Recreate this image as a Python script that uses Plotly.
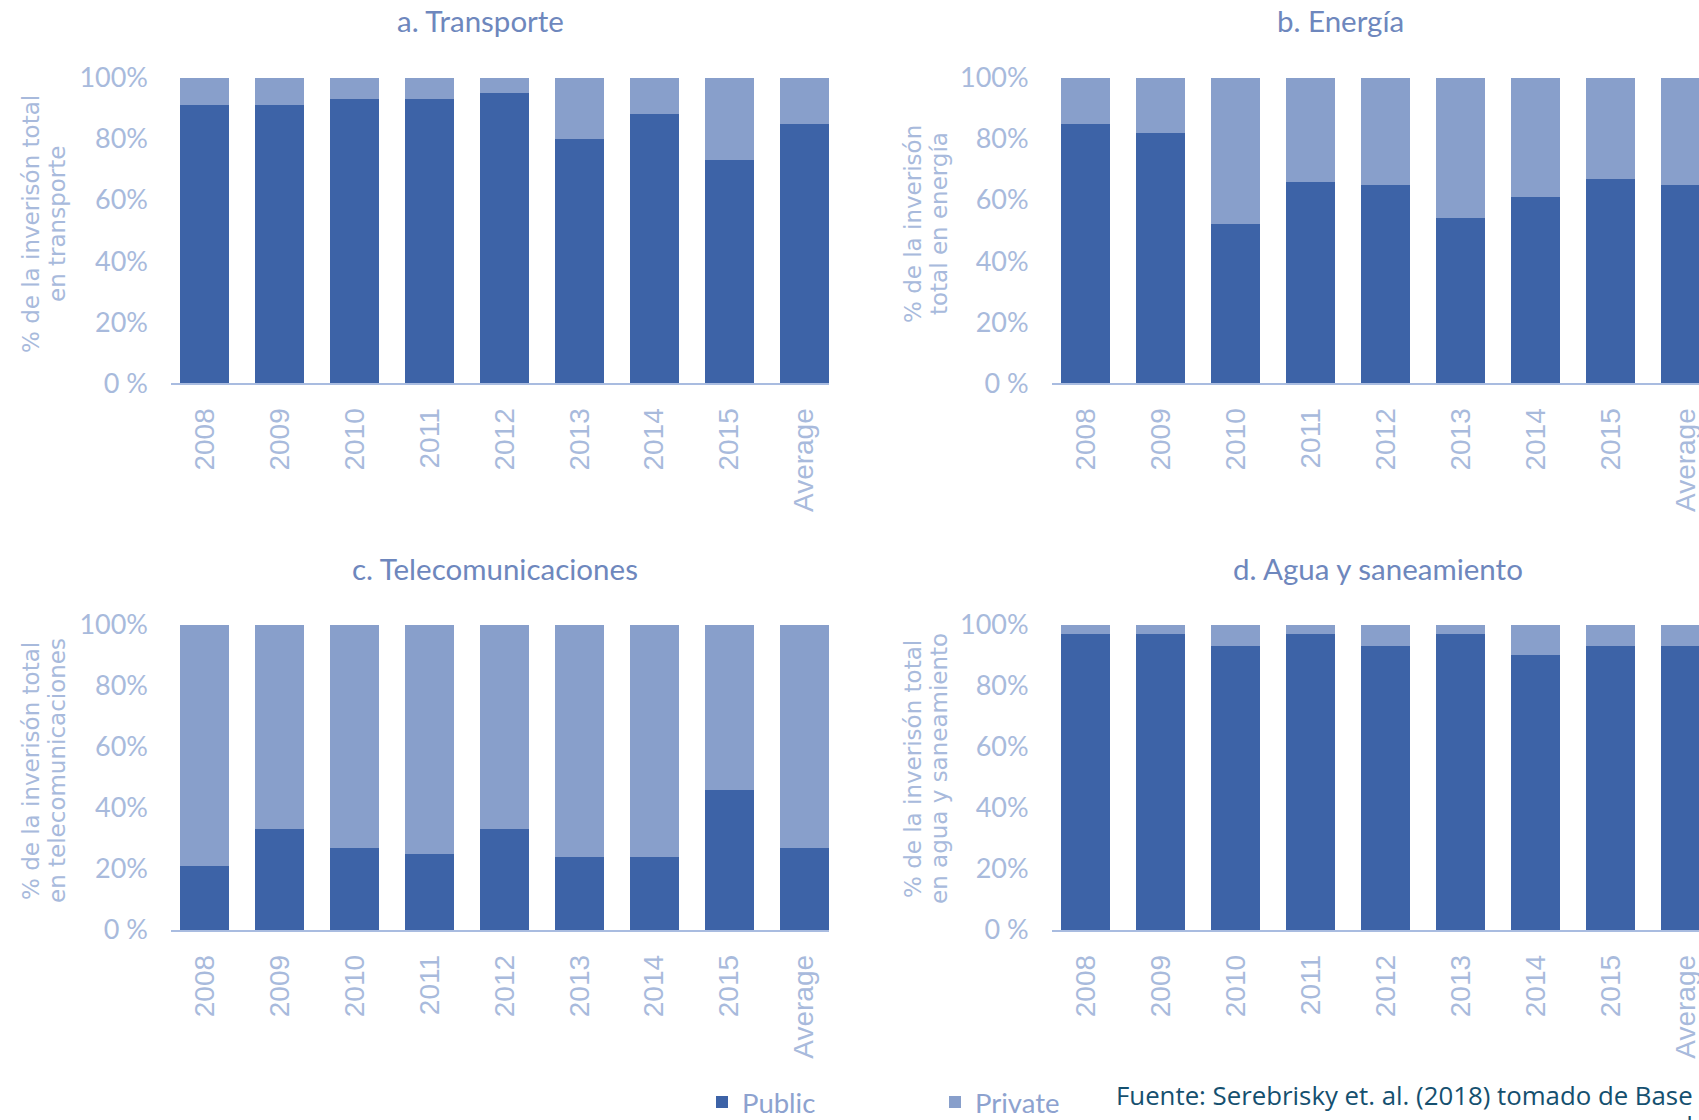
import plotly.graph_objects as go

categories = ["2008", "2009", "2010", "2011", "2012", "2013", "2014", "2015", "Average"]

transporte_public = [91, 91, 93, 93, 95, 80, 88, 73, 85]
transporte_private = [9, 9, 7, 7, 5, 20, 12, 27, 15]
energia_public = [85, 82, 52, 66, 65, 54, 61, 67, 65]
energia_private = [15, 18, 48, 34, 35, 46, 39, 33, 35]
telecom_public = [21, 33, 27, 25, 33, 24, 24, 46, 27]
telecom_private = [79, 67, 73, 75, 67, 76, 76, 54, 73]
agua_public = [97, 97, 93, 97, 93, 97, 90, 93, 93]
agua_private = [3, 3, 7, 3, 7, 3, 10, 7, 7]

panel_titles = ["a. Transporte", "b. Energía", "c. Telecomunicaciones", "d. Agua y saneamiento"]
ytitle_lines = [
    ["% de la inverisón total", "en transporte"],
    ["% de la inverisón", "total en energía"],
    ["% de la inverisón total", "en telecomunicaciones"],
    ["% de la inverisón total", "en agua y saneamiento"],
]
ytick_vals = [0, 20, 40, 60, 80, 100]
ytick_text = ["0 %", "20%", "40%", "60%", "80%", "100%"]
source_text = "Fuente: Serebrisky et. al. (2018) tomado de Base"
source_text2 = "Infralatam"

W, H = 1699, 1120

def px(x):
    return x / W

def py(y):
    return 1 - y / H

PUBLIC_C = "#3D63A7"
PRIVATE_C = "#889FCB"
TITLE_C = "#6E87BD"
LIGHT_C = "#A8BADC"
LEGEND_C = "#8DA2CF"
AXLINE_C = "#A9BCE0"

series = [
    (transporte_public, transporte_private),
    (energia_public, energia_private),
    (telecom_public, telecom_private),
    (agua_public, agua_private),
]

fig = go.Figure()
for i, (pub, priv) in enumerate(series):
    sfx = "" if i == 0 else str(i + 1)
    fig.add_trace(go.Bar(x=categories, y=pub, name="Public", marker=dict(color=PUBLIC_C, line=dict(width=0)),
                         xaxis="x" + sfx, yaxis="y" + sfx, legendgroup="pub", showlegend=(i == 0)))
    fig.add_trace(go.Bar(x=categories, y=priv, name="Private", marker=dict(color=PRIVATE_C, line=dict(width=0)),
                         xaxis="x" + sfx, yaxis="y" + sfx, legendgroup="priv", showlegend=(i == 0)))

left_dom = [px(171), px(829)]
right_dom = [px(1051.6), 1.0]
left_rng = [-0.45, 8.33]
right_rng = [-0.455, 8.18]
top_dom = [py(383.3), py(77.7)]
bot_dom = [py(930), py(624.6)]

def xax(dom, rng, anchor):
    return dict(domain=dom, range=rng, anchor=anchor, type="category", automargin=False,
                showline=True, linecolor=AXLINE_C, linewidth=1.5,
                showgrid=False, zeroline=False, ticks="", tickangle=-90,
                tickfont=dict(family="Liberation Sans", size=28, color=LIGHT_C), ticklabelstandoff=12,
                fixedrange=True)

def yax(dom, anchor):
    return dict(domain=dom, range=[0, 100], anchor=anchor, automargin=False, showline=False, showgrid=False,
                zeroline=False, tickvals=ytick_vals, ticktext=ytick_text, ticks="",
                tickfont=dict(family="Lato", size=27, color=LIGHT_C), ticklabelstandoff=22, fixedrange=True)

fig.update_layout(
    width=W, height=H, autosize=False,
    margin=dict(l=0, r=0, t=0, b=0, autoexpand=False),
    paper_bgcolor="white", plot_bgcolor="white",
    barmode="stack", bargap=0.35,
    xaxis=xax(left_dom, left_rng, "y"),
    yaxis=yax(top_dom, "x"),
    xaxis2=xax(right_dom, right_rng, "y2"),
    yaxis2=yax(top_dom, "x2"),
    xaxis3=xax(left_dom, left_rng, "y3"),
    yaxis3=yax(bot_dom, "x3"),
    xaxis4=xax(right_dom, right_rng, "y4"),
    yaxis4=yax(bot_dom, "x4"),
    showlegend=True,
    legend=dict(orientation="h", x=px(702), y=py(1102), xanchor="left", yanchor="middle",
                font=dict(family="Lato", size=27.5, color=LEGEND_C), traceorder="normal",
                entrywidth=188, entrywidthmode="pixels", bgcolor="rgba(0,0,0,0)"),
)

# panel titles
title_pos = [(480, 20), (1340, 20), (495, 568), (1378, 568)]
for t, (x, y) in zip(panel_titles, title_pos):
    fig.add_annotation(text=t, x=px(x), y=py(y), xref="paper", yref="paper", xanchor="center",
                       yanchor="middle", showarrow=False, font=dict(family="Lato", size=29.5, color=TITLE_C))

# y axis titles (two lines each)
ytitle_pos = [((31, 57), 224), ((913, 939), 224), ((31, 57), 771), ((913, 939), 769)]
for lines, ((x1, x2), y) in zip(ytitle_lines, ytitle_pos):
    for line, x in zip(lines, (x1, x2)):
        fig.add_annotation(text=line, x=px(x), y=py(y), xref="paper", yref="paper", xanchor="center",
                           yanchor="middle", textangle=-90, showarrow=False,
                           font=dict(family="DejaVu Sans", size=23, color=LIGHT_C))

fig.add_annotation(text=source_text, x=px(1114), y=py(1095), xref="paper", yref="paper", xanchor="left",
                   yanchor="middle", showarrow=False, font=dict(family="Open Sans", size=25.8, color="#15506F"))
fig.add_annotation(text=source_text2, x=px(1684), y=py(1124), xref="paper", yref="paper", xanchor="left",
                   yanchor="middle", showarrow=False, font=dict(family="Open Sans", size=25.8, color="#15506F"))

# remove the default 8px page margin so the figure sits at the window's top-left corner
fig.write_html("out.html", config={"displayModeBar": False},
               post_script="document.body.style.margin='0';")
